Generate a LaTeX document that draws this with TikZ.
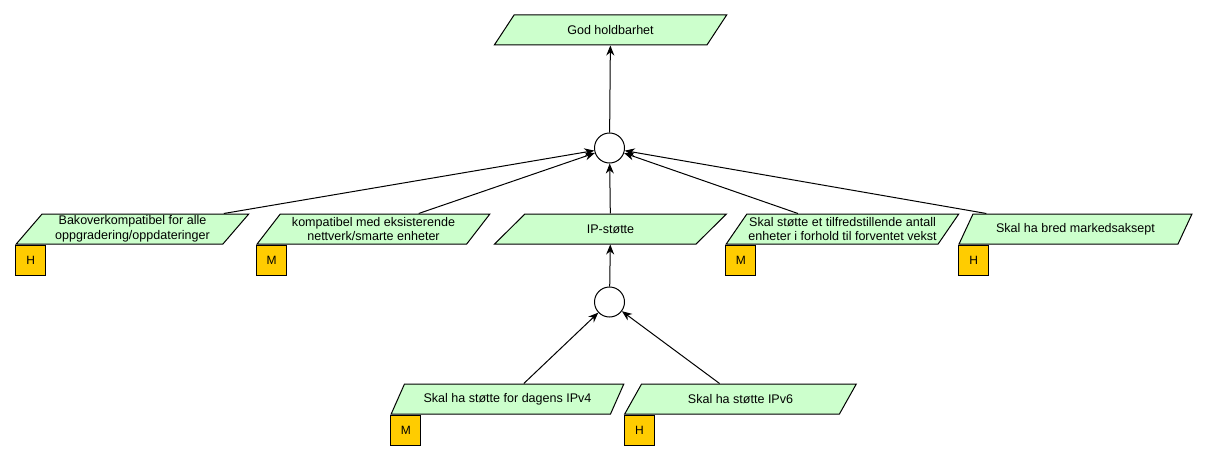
\documentclass[tikz,border=0pt]{standalone}
\usepackage{fontspec}
\setmainfont{Liberation Sans}
\usepackage{tikz}
\usetikzlibrary{positioning,arrows.meta,shapes.geometric}
\definecolor{paleleaf}{RGB}{204, 255, 204}
\definecolor{amberbadge}{RGB}{255, 204, 0}

\begin{document}
\begin{tikzpicture}[
        x=0.75pt, y=-0.75pt,
        goal/.style={draw, line width=0.75pt, trapezium, trapezium left angle=52.5, trapezium right angle=127.5,
            trapezium stretches=true, minimum width=174.75pt, minimum height=22.5pt, inner sep=1pt,
            fill=paleleaf, align=center, font=\fontsize{9.4}{11.2}\selectfont},
        badge/.style={draw, line width=0.75pt, fill=amberbadge, minimum size=22.5pt, inner sep=0pt,
            anchor=north west, font=\fontsize{9}{10}\selectfont},
        junction/.style={draw, line width=0.75pt, circle, fill=white, minimum size=22.5pt, inner sep=0pt},
        arrow/.style={-{Stealth[length=7.5pt,width=6pt]}, line width=0.75pt}
    ]
    \useasboundingbox (0,0) rectangle (1207,460);
    \node[goal] (durable) at (610.5,30) {God holdbarhet};
    \node[junction] (andtop) at (609.5,148) {};
    \node[goal] (backcompat) at (132.5,229) {Bakoverkompatibel for alle\\oppgradering/oppdateringer};
    \node[goal] (existing) at (373.5,229) {kompatibel med eksisterende\\nettverk/smarte enheter};
    \node[goal] (ipsupport) at (610.5,229) {IP-støtte};
    \node[goal] (capacity) at (842.5,229) {Skal støtte et tilfredstillende antall\\enheter i forhold til forventet vekst};
    \node[goal] (market) at (1075.5,229) {Skal ha bred markedsaksept};
    \node[junction] (andip) at (609.5,302) {};
    \node[goal] (ipvfour) at (507.5,399) {Skal ha støtte for dagens IPv4};
    \node[goal] (ipvsix) at (740.5,399) {Skal ha støtte IPv6};
    % priority badges
    \node[badge] (backcompatprio) at (backcompat.bottom left corner) {H};
    \node[badge] (existingprio) at (existing.bottom left corner) {M};
    \node[badge] (capacityprio) at (capacity.bottom left corner) {M};
    \node[badge] (marketprio) at (market.bottom left corner) {H};
    \node[badge] (ipvfourprio) at (ipvfour.bottom left corner) {M};
    \node[badge] (ipvsixprio) at (ipvsix.bottom left corner) {H};
    \draw[arrow] (andtop) -- (durable);
    \draw[arrow] (backcompat) -- (andtop);
    \draw[arrow] (existing) -- (andtop);
    \draw[arrow] (ipsupport) -- (andtop);
    \draw[arrow] (capacity) -- (andtop);
    \draw[arrow] (market) -- (andtop);
    \draw[arrow] (andip) -- (ipsupport);
    \draw[arrow] (ipvfour) -- (andip);
    \draw[arrow] (ipvsix) -- (andip);
\end{tikzpicture}
\end{document}
